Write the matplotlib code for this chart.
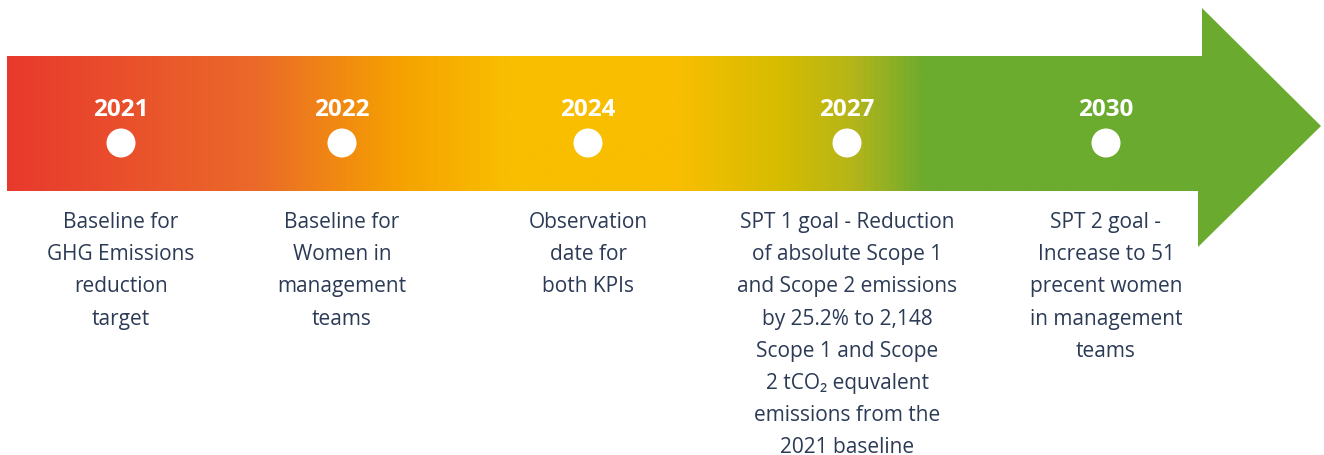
import matplotlib
matplotlib.use("Agg")
import matplotlib.pyplot as plt
import numpy as np
from matplotlib.colors import LinearSegmentedColormap
from matplotlib.patches import Polygon, Circle

# ---- data ----
years = ["2021", "2022", "2024", "2027", "2030"]
descriptions = [
    "Baseline for\nGHG Emissions\nreduction\ntarget",
    "Baseline for\nWomen in\nmanagement\nteams",
    "Observation\ndate for\nboth KPIs",
    "SPT 1 goal - Reduction\nof absolute Scope 1\nand Scope 2 emissions\nby 25.2% to 2,148\nScope 1 and Scope\n2 tCO\u2082 equvalent\nemissions from the\n2021 baseline",
    "SPT 2 goal -\nIncrease to 51\nprecent women\nin management\nteams",
]

# ---- layout (pixel coordinates) ----
W, H = 1324, 456
x_pos = [121, 342, 588, 847, 1106]
fig = plt.figure(figsize=(W / 100, H / 100), dpi=100)
ax = fig.add_axes([0, 0, 1, 1])
ax.set_xlim(0, W)
ax.set_ylim(H, 0)
ax.axis("off")

# gradient colours
stops = [
    (0.0, "#E8392E"),
    (0.19, "#EB6A29"),
    (0.30, "#F5A200"),
    (0.38, "#F9BE00"),
    (0.51, "#F9BE00"),
    (0.59, "#D5BC00"),
    (0.645, "#B4B51A"),
    (0.70, "#6CAB2E"),
    (1.0, "#6AAB30"),
]
x0, x1 = 7, 1321
cmap = LinearSegmentedColormap.from_list(
    "grad", [(p, c) for p, c in stops])

arrow = Polygon(
    [(x0, 57), (1202, 57), (1202, 9), (1321, 127), (1198, 248),
     (1198, 192), (x0, 192)],
    closed=True, facecolor="none", edgecolor="none")
ax.add_patch(arrow)
grad = np.linspace(0, 1, 1000).reshape(1, -1)
im = ax.imshow(grad, cmap=cmap, extent=(x0, x1, 250, 5), aspect="auto",
               interpolation="bicubic", zorder=1)
im.set_clip_path(arrow)

text_color = "#2B3A55"
for x, yr, desc in zip(x_pos, years, descriptions):
    ax.text(x, 110, yr, ha="center", va="center", fontsize=17.5,
            fontweight="bold", color="white", family="Open Sans", zorder=3)
    ax.add_patch(Circle((x, 144), 14.5, facecolor="white",
                        edgecolor="none", zorder=3))
    ax.text(x, 212, desc, ha="center", va="top", fontsize=15,
            color=text_color, family=["Open Sans", "DejaVu Sans"],
            linespacing=1.70, zorder=3)

fig.savefig("out.png", dpi=100)
